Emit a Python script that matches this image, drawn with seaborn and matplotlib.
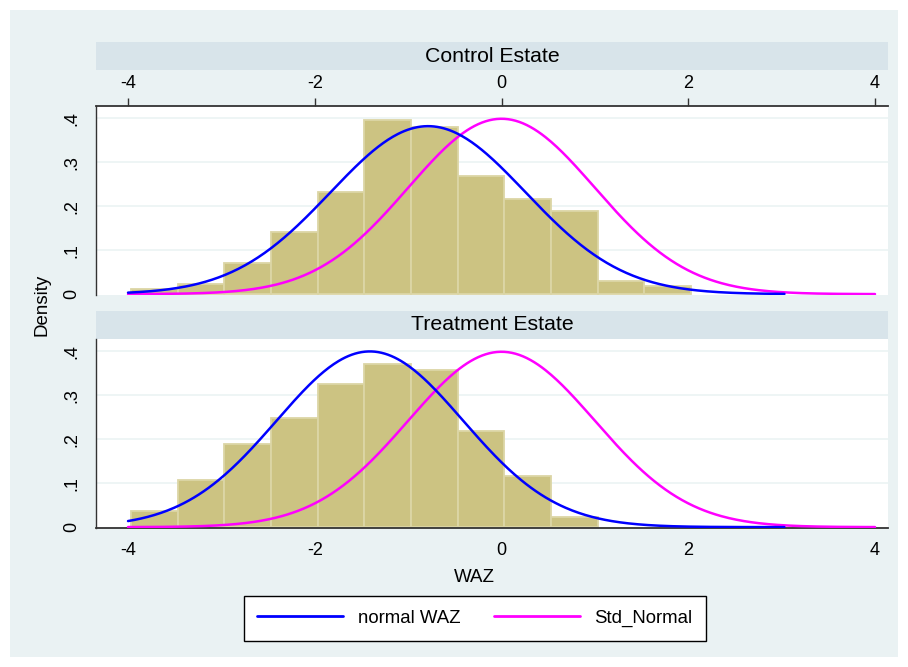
import numpy as np
import pandas as pd
import matplotlib
matplotlib.use("Agg")
import matplotlib.pyplot as plt
from matplotlib.patches import Rectangle
from matplotlib.lines import Line2D
import seaborn as sns

# Histogram bins (WAZ, width 0.5) and density heights per estate
bin_edges = [-3.97, -3.47, -2.97, -2.47, -1.97, -1.47, -0.97, -0.47,
             0.03, 0.53, 1.03, 1.53, 2.03]
control_density = [0.011, 0.023, 0.070, 0.142, 0.233, 0.396, 0.380, 0.269,
                   0.217, 0.190, 0.029, 0.019]
treatment_density = [0.036, 0.107, 0.190, 0.248, 0.325, 0.370, 0.357, 0.218,
                     0.116, 0.023]

# Fitted normal parameters (mean, sd) for WAZ in each estate
panels = ["Control Estate", "Treatment Estate"]
waz_mean = [-0.787, -1.41]
waz_sd = [1.044, 0.998]
waz_range = [-4.0, 3.03]
std_range = [-4.0, 4.0]

x_ticks = [-4, -2, 0, 2, 4]
y_ticks = [0, 0.1, 0.2, 0.3, 0.4]
y_ticklabels = ["0", ".1", ".2", ".3", ".4"]

sns.set_style("white")
plt.rcParams["font.family"] = ["Liberation Sans", "DejaVu Sans"]
plt.rcParams["text.color"] = "black"

W, H = 908, 667
fig = plt.figure(figsize=(W / 100, H / 100), dpi=100, facecolor="white")

BG = "#EAF2F3"
STRIP = "#D8E4EA"
BAR = "#CCC382"
BAR_EDGE = "#DCD6A6"
AX_COL = "#333333"


def fx(px):
    return px / W


def fy(py):
    return 1 - py / H


# graph region
fig.patches.append(Rectangle((fx(10), fy(657)), fx(888), (647) / H,
                             transform=fig.transFigure, facecolor=BG,
                             edgecolor="none", zorder=-10))


def normal_pdf(x, mu, sd):
    return np.exp(-0.5 * ((x - mu) / sd) ** 2) / (sd * np.sqrt(2 * np.pi))


layout = [(106, 295, 42, 70), (339, 528, 311, 339)]
centers = [(a + b) / 2 for a, b in zip(bin_edges[:-1], bin_edges[1:])]

axes = []
for i, (name, dens) in enumerate(zip(panels, [control_density, treatment_density])):
    top, bot, s_top, s_bot = layout[i]
    ax = fig.add_axes([fx(96), fy(bot), fx(888 - 96), (bot - top) / H])
    ax.set_facecolor("white")
    ax.set_zorder(5)
    axes.append(ax)

    n = len(dens)
    hist_df = pd.DataFrame({"WAZ": centers[:n], "density": dens})
    sns.histplot(data=hist_df, x="WAZ", weights="density",
                 bins=list(bin_edges[:n + 1]),
                 stat="count", color=BAR, edgecolor=BAR_EDGE, linewidth=1.3,
                 alpha=1, ax=ax, zorder=2)

    xs = np.linspace(waz_range[0], waz_range[1], 400)
    sns.lineplot(x=xs, y=normal_pdf(xs, waz_mean[i], waz_sd[i]), ax=ax,
                 color="#0000FF", linewidth=1.8, zorder=4)
    xs2 = np.linspace(std_range[0], std_range[1], 400)
    sns.lineplot(x=xs2, y=normal_pdf(xs2, 0, 1), ax=ax,
                 color="#FF00FF", linewidth=1.8, zorder=3)

    ax.set_xlim(-4.343, 4.139)
    ax.set_ylim(-0.002, 0.428)
    for yv in y_ticks[1:]:
        ax.axhline(yv, color=BG, linewidth=1.1, zorder=1)
    ax.set_yticks(y_ticks)
    ax.set_yticklabels(y_ticklabels, rotation=90, va="center")
    ax.set_xticks(x_ticks)
    ax.set_xticklabels([str(t) for t in x_ticks])
    ax.set_xlabel("")
    ax.set_ylabel("")
    ax.tick_params(axis="y", length=7, width=1, color=AX_COL, pad=4,
                   labelsize=13, labelcolor="black")
    for sp in ax.spines.values():
        sp.set_visible(False)
    ax.spines["left"].set_visible(True)
    ax.spines["left"].set_color(AX_COL)
    ax.spines["left"].set_linewidth(1)
    if i == 0:
        ax.xaxis.tick_top()
        ax.spines["top"].set_visible(True)
        ax.spines["top"].set_color(AX_COL)
        ax.spines["top"].set_linewidth(1.3)
    else:
        ax.spines["bottom"].set_visible(True)
        ax.spines["bottom"].set_color(AX_COL)
        ax.spines["bottom"].set_linewidth(1.3)
    ax.tick_params(axis="x", length=6, width=1, color=AX_COL, pad=4,
                   labelsize=13, labelcolor="black")

    # panel strip
    fig.patches.append(Rectangle((fx(96), fy(s_bot)), fx(888 - 96),
                                 (s_bot - s_top) / H, transform=fig.transFigure,
                                 facecolor=STRIP, edgecolor="none", zorder=1))
    fig.text(fx(492), fy((s_top + s_bot) / 2), name, ha="center",
             va="center", fontsize=15.3)

fig.text(fx(42), fy(305), "Density", rotation=90, ha="center", va="center",
         fontsize=13.5)
fig.text(fx(474), fy(577), "WAZ", ha="center", va="center", fontsize=13.5)

handles = [Line2D([], [], color="#0000FF", linewidth=2),
           Line2D([], [], color="#FF00FF", linewidth=2)]
leg = fig.legend(handles, ["normal WAZ", "Std_Normal"], ncol=2,
                 loc="center", bbox_to_anchor=(fx(475), fy(618.5)),
                 fontsize=13.4, frameon=True, fancybox=False, framealpha=1,
                 edgecolor="black", handlelength=4.6, handletextpad=0.8,
                 columnspacing=1.8, borderpad=0.72)
leg.get_frame().set_linewidth(1)

fig.savefig("out.png", dpi=100, facecolor="white")
